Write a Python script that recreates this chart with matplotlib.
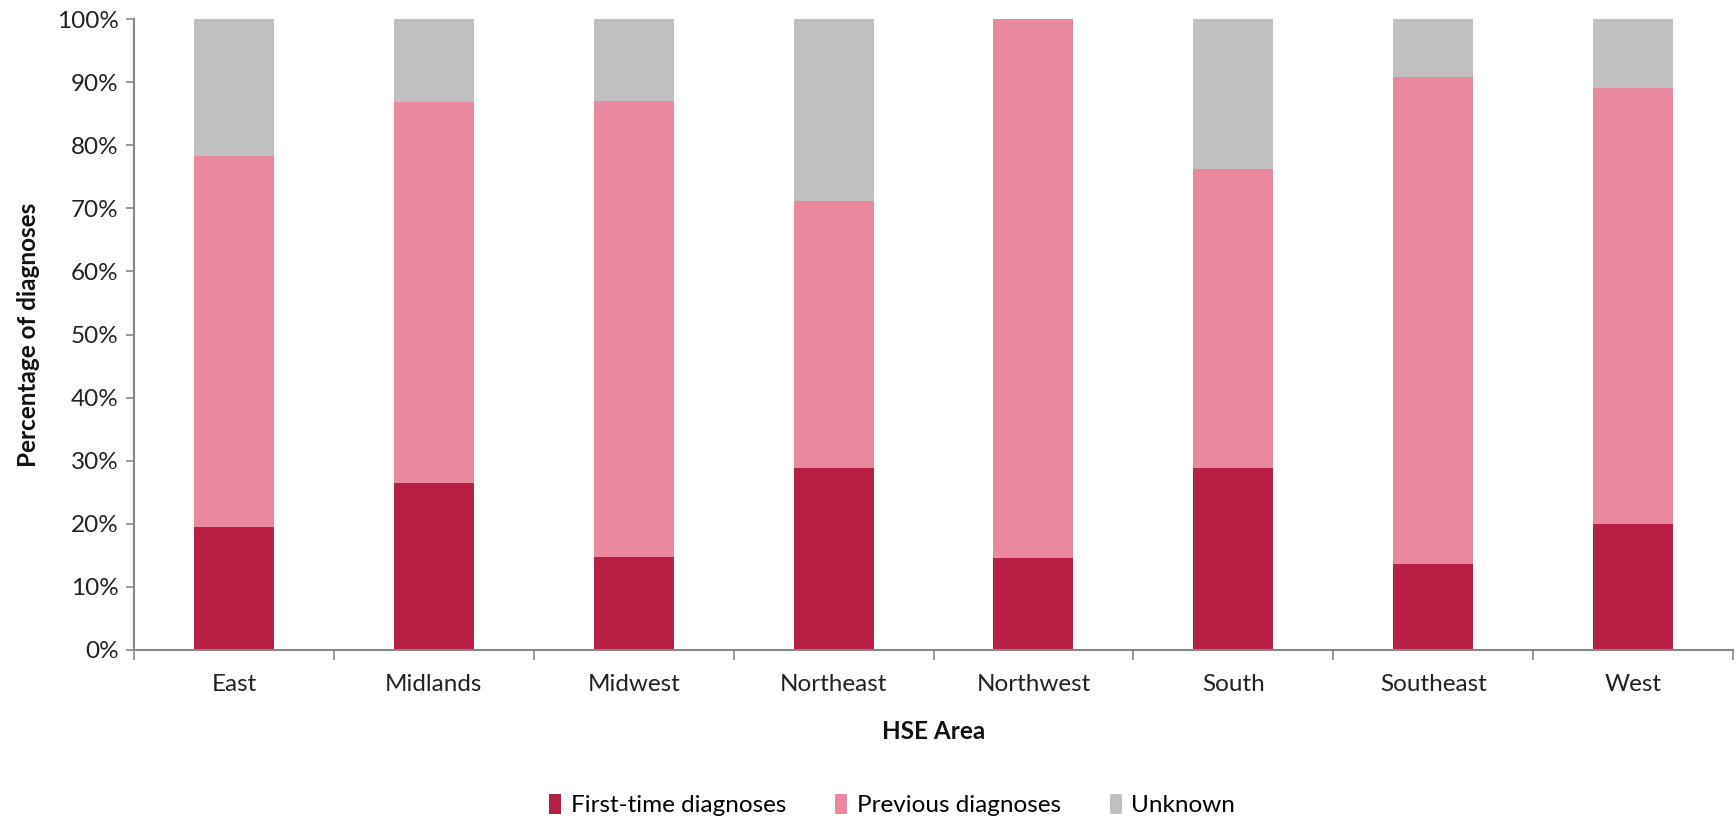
import matplotlib
matplotlib.use("Agg")
import matplotlib.pyplot as plt
import numpy as np
from matplotlib.ticker import FixedLocator, PercentFormatter

categories = ["East", "Midlands", "Midwest", "Northeast", "Northwest", "South", "Southeast", "West"]
first_time = [19.5, 26.4, 14.8, 28.8, 14.6, 28.8, 13.6, 19.9]
previous = [58.8, 60.4, 72.2, 42.4, 85.4, 47.4, 77.2, 69.2]
unknown = [21.7, 13.2, 13.0, 28.8, 0.0, 23.8, 9.2, 10.9]

colors = ["#B81F45", "#EA88A0", "#C0C0C0"]
labels = ["First-time diagnoses", "Previous diagnoses", "Unknown"]

plt.rcParams['font.family'] = ['Lato', 'DejaVu Sans']
FS = 17.5

fig = plt.figure(figsize=(17.36, 8.18), dpi=100)
ax = fig.add_axes([134/1736, 1 - 650/818, (1733-134)/1736, (650-19)/818])

x = np.arange(len(categories))
w = 0.4
b1 = ax.bar(x, first_time, w, color=colors[0], label=labels[0])
b2 = ax.bar(x, previous, w, bottom=first_time, color=colors[1], label=labels[1])
bottom2 = np.array(first_time) + np.array(previous)
b3 = ax.bar(x, unknown, w, bottom=bottom2, color=colors[2], label=labels[2])

ax.set_xlim(-0.5, len(categories) - 0.5)
ax.set_ylim(0, 100)
ax.yaxis.set_major_locator(FixedLocator(np.arange(0, 101, 10)))
ax.yaxis.set_major_formatter(PercentFormatter(decimals=0))

ax.set_xticks(x)
ax.set_xticklabels(categories)
ax.xaxis.set_minor_locator(FixedLocator(np.arange(-0.5, len(categories), 1)))
ax.tick_params(axis='x', which='major', length=0, pad=17, labelsize=FS, colors='#222222')
ax.tick_params(axis='x', which='minor', length=7, width=1.2, color='#888888')
ax.tick_params(axis='y', which='major', length=6, width=1.2, color='#888888', labelsize=FS,
               labelcolor='#222222', pad=5)

for s in ['top', 'right']:
    ax.spines[s].set_visible(False)
for s in ['left', 'bottom']:
    ax.spines[s].set_color('#888888')
    ax.spines[s].set_linewidth(1.5)

ax.set_ylabel("Percentage of diagnoses", fontsize=FS, fontweight='bold', labelpad=12, color='#111111')
ax.set_xlabel("HSE Area", fontsize=FS, fontweight='bold', labelpad=18, color='#111111')

leg = fig.legend(handles=[b1, b2, b3], labels=labels, loc='center', bbox_to_anchor=(0.514, 1 - 805/818),
                 ncol=3, frameon=False, fontsize=FS, handlelength=0.5, handleheight=0.9,
                 handletextpad=0.4, columnspacing=2.0)

fig.savefig("out.png", dpi=100)
